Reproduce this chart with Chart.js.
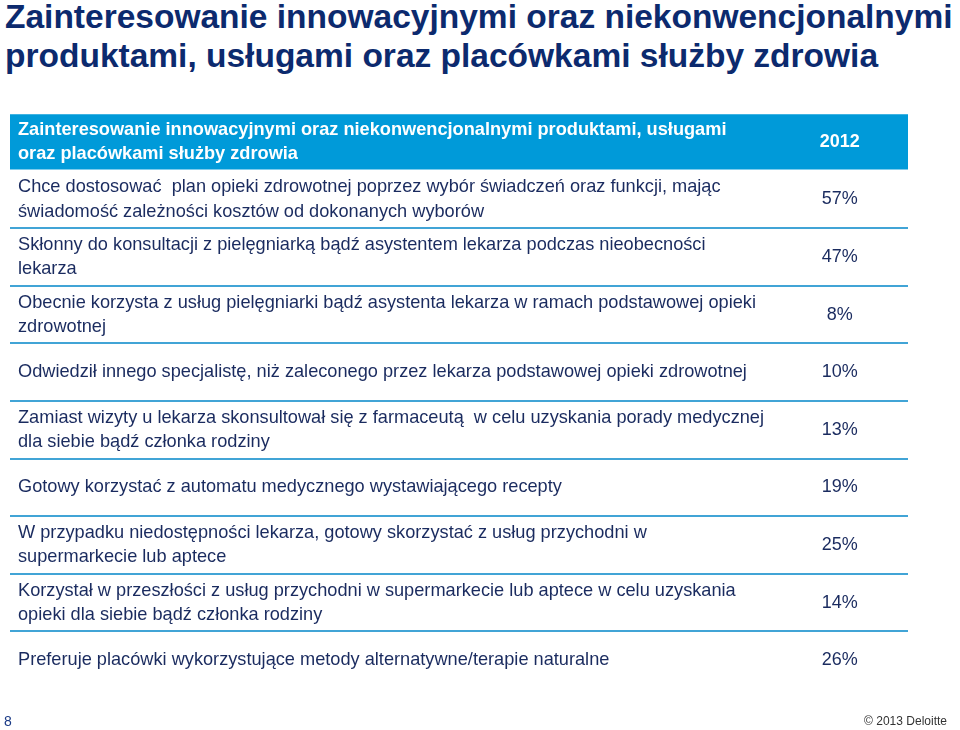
<!DOCTYPE html>
<html lang="pl">
<head>
<meta charset="utf-8">
<title>Zainteresowanie innowacyjnymi oraz niekonwencjonalnymi produktami</title>
<script src="https://cdn.jsdelivr.net/npm/chart.js@4"></script>
<style>
    html, body { margin: 0; padding: 0; background: #fff; }
    .page { position: relative; width: 960px; height: 730px; overflow: hidden; font-family: "Liberation Sans", Arial, sans-serif; }
    .page h1 {
        position: absolute; left: 5px; top: -3px; margin: 0;
        font-size: 33.5px; line-height: 39px; font-weight: bold; color: #0c2a6e;
    }
    #chart { position: absolute; left: 0; top: 0; }
    .page-num { position: absolute; left: 4px; top: 713px; font-size: 14px; color: #1a3a86; }
    .copy { position: absolute; right: 13px; top: 714px; font-size: 12px; color: #333; }
</style>
</head>
<body>
<div class="page">
    <h1>Zainteresowanie innowacyjnymi oraz niekonwencjonalnymi<br>produktami, usługami oraz placówkami służby zdrowia</h1>
    <canvas id="chart" width="960" height="730"></canvas>
    <div class="page-num">8</div>
    <div class="copy">© 2013 Deloitte</div>
</div>
<script>
// --- Data ---
const headerLabel = ['Zainteresowanie innowacyjnymi oraz niekonwencjonalnymi produktami, usługami', 'oraz placówkami służby zdrowia'];
const yearLabel = '2012';
const rowLabels = [
    ['Chce dostosować  plan opieki zdrowotnej poprzez wybór świadczeń oraz funkcji, mając', 'świadomość zależności kosztów od dokonanych wyborów'],
    ['Skłonny do konsultacji z pielęgniarką bądź asystentem lekarza podczas nieobecności', 'lekarza'],
    ['Obecnie korzysta z usług pielęgniarki bądź asystenta lekarza w ramach podstawowej opieki', 'zdrowotnej'],
    'Odwiedził innego specjalistę, niż zaleconego przez lekarza podstawowej opieki zdrowotnej',
    ['Zamiast wizyty u lekarza skonsultował się z farmaceutą  w celu uzyskania porady medycznej', 'dla siebie bądź członka rodziny'],
    'Gotowy korzystać z automatu medycznego wystawiającego recepty',
    ['W przypadku niedostępności lekarza, gotowy skorzystać z usług przychodni w', 'supermarkecie lub aptece'],
    ['Korzystał w przeszłości z usług przychodni w supermarkecie lub aptece w celu uzyskania', 'opieki dla siebie bądź członka rodziny'],
    'Preferuje placówki wykorzystujące metody alternatywne/terapie naturalne'
];
const values = [57, 47, 8, 10, 13, 19, 25, 14, 26];

// --- Styles ---
const FONT = '"Liberation Sans", Arial, sans-serif';
const NAVY = '#1a2b5f';
const BLUE = '#009ad9';
const LINE = '#41a4d6';
const VALUE_COL = 0.924; // position of the value column on the x scale

const allLabels = [headerLabel, ...rowLabels];
const headerBand = allLabels.map((_, i) => i === 0 ? 1 : null);

// Draws the "2012" column: header plus one value per row
const valueColumn = {
    id: 'valueColumn',
    afterDraw(chart) {
        const { ctx, scales: { x, y } } = chart;
        const cx = x.getPixelForValue(VALUE_COL);
        ctx.save();
        ctx.textAlign = 'center';
        ctx.textBaseline = 'middle';
        ctx.font = `bold 18px ${FONT}`;
        ctx.fillStyle = '#fff';
        ctx.fillText(yearLabel, cx, y.getPixelForValue(0));
        ctx.font = `18px ${FONT}`;
        ctx.fillStyle = NAVY;
        values.forEach((v, i) => {
            ctx.fillText(`${v}%`, cx, y.getPixelForValue(i + 1));
        });
        ctx.restore();
    }
};

new Chart(document.getElementById('chart'), {
    type: 'bar',
    data: {
        labels: allLabels,
        datasets: [{
            data: headerBand,
            backgroundColor: BLUE,
            barPercentage: 1,
            categoryPercentage: 0.96
        }]
    },
    options: {
        indexAxis: 'y',
        responsive: false,
        animation: false,
        events: [],
        layout: { padding: { left: 10, right: 52, top: 113, bottom: 41 } },
        plugins: { legend: { display: false }, tooltip: { enabled: false } },
        scales: {
            x: { display: false, min: 0, max: 1 },
            y: {
                afterFit: s => { s.width = 0; },
                border: { display: false },
                grid: {
                    offset: true,
                    drawTicks: false,
                    lineWidth: 2,
                    color: ctx => (ctx.index >= 2 && ctx.index <= 9) ? LINE : 'rgba(0,0,0,0)'
                },
                ticks: {
                    z: 1,
                    mirror: true,
                    padding: 8,
                    color: ctx => ctx.index === 0 ? '#fff' : NAVY,
                    font: ctx => ({
                        family: FONT,
                        size: 18.2,
                        weight: ctx.index === 0 ? 'bold' : 'normal',
                        lineHeight: 1.33
                    })
                }
            }
        }
    },
    plugins: [valueColumn]
});
</script>
</body>
</html>
